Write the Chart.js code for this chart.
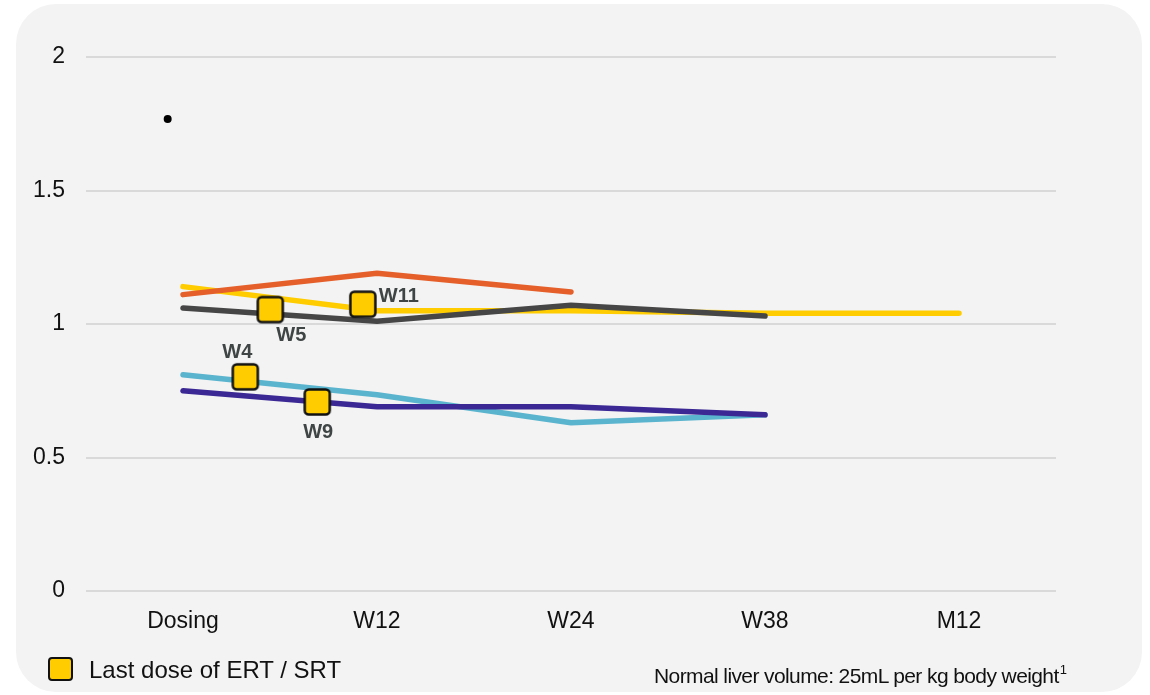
<!DOCTYPE html>
<html>
<head>
<meta charset="utf-8">
<script src="https://cdn.jsdelivr.net/npm/chart.js@4.4.1/dist/chart.umd.min.js"></script>
<style>
  html, body { margin: 0; padding: 0; background: #ffffff; }
  body { width: 1150px; height: 695px; position: relative; overflow: hidden; font-family: "Liberation Sans", Arial, sans-serif; }
  #panel { position: absolute; left: 16px; top: 4px; width: 1126px; height: 688px; background: #f3f3f3; border-radius: 40px; }
  #chart { position: absolute; left: 0; top: 0; }
  #legendBox { position: absolute; left: 48px; top: 657px; width: 21px; height: 20px; background: #FFCC00; border: 2px solid #111; border-radius: 4px; }
  #legendText { position: absolute; left: 89px; top: 658px; font-size: 24px; line-height: 24px; color: #111; white-space: nowrap; }
  #note { position: absolute; left: 654px; top: 665px; font-size: 21px; line-height: 21px; letter-spacing: -0.6px; color: #111; white-space: nowrap; }
  #note sup { font-size: 13px; letter-spacing: 0; vertical-align: 9px; line-height: 0; margin-left: 1px; }
</style>
</head>
<body>
<div id="panel"></div>
<canvas id="chart" width="1150" height="695"></canvas>
<div id="legendBox"></div>
<div id="legendText">Last dose of ERT / SRT</div>
<div id="note">Normal liver volume: 25mL per kg body weight<sup>1</sup></div>
<script>
/* Data */
/////////////////////////////////////////////////////////////////
const categories = ['Dosing', 'W12', 'W24', 'W38', 'M12'];
const yellowVals = [1.14, 1.05, 1.05, 1.04, 1.04];
const orangeVals = [1.11, 1.19, 1.12, null, null];
const greyVals   = [1.06, 1.01, 1.07, 1.03, null];
const blueVals   = [0.81, 0.735, 0.63, 0.66, null];
const purpleVals = [0.75, 0.69, 0.69, 0.66, null];

/* last dose markers, x is a fractional category index */
const markerLabels = ['W5', 'W11', 'W4', 'W9'];
const markerX = [0.45, 0.927, 0.321, 0.692];
const markerY = [1.054, 1.074, 0.802, 0.708];

/* the lone dot near the top */
const dotX = [-0.079];
const dotY = [1.768];

const yTicks = [0, 0.5, 1, 1.5, 2];

/* helpers */
/////////////////////////////////////////////////////////////////
function toPoints(vals) {
    let pts = [];
    for (let i = 0; i < vals.length; i++) {
        if (vals[i] !== null) pts.push({x: i, y: vals[i]});
    }
    return pts;
}
function pairPoints(xs, ys) {
    return xs.map((x, i) => ({x: x, y: ys[i]}));
}
function lineSet(label, vals, color) {
    return {
        label: label,
        data: toPoints(vals),
        borderColor: color,
        backgroundColor: color,
        borderWidth: 5.5,
        borderCapStyle: 'round',
        borderJoinStyle: 'round',
        pointRadius: 0,
        tension: 0
    };
}

/* square marker image */
const box = document.createElement('canvas');
box.width = 30; box.height = 30;
const bctx = box.getContext('2d');
bctx.fillStyle = '#FFCC00';
bctx.strokeStyle = '#111111';
bctx.lineWidth = 2.5;
bctx.beginPath();
bctx.roundRect(2.5, 2.5, 25, 25, 4);
bctx.fill();
bctx.stroke();

/* offsets for the marker labels */
const labelOffsets = [[21, 26], [36, -8], [-8, -24], [1, 31]];

const markerText = {
    id: 'markerText',
    afterDatasetsDraw(chart) {
        const c = chart.ctx;
        const xs = chart.scales.x, ys = chart.scales.y;
        c.save();
        c.font = 'bold 20px "Liberation Sans", Arial, sans-serif';
        c.fillStyle = '#3f4444';
        c.textAlign = 'center';
        c.textBaseline = 'middle';
        for (let i = 0; i < markerLabels.length; i++) {
            const px = xs.getPixelForValue(markerX[i]);
            const py = ys.getPixelForValue(markerY[i]);
            c.fillText(markerLabels[i], px + labelOffsets[i][0], py + labelOffsets[i][1]);
        }
        c.restore();
    }
};

/////////////////////////////////////////////////////////////////
const ctx = document.getElementById('chart');
const chart = new Chart(ctx, {
    type: 'line',
    data: {
        datasets: [
            {
                label: 'Last dose of ERT / SRT',
                data: pairPoints(markerX, markerY),
                showLine: false,
                pointStyle: box,
                pointRadius: 15
            },
            {
                label: 'dot',
                data: pairPoints(dotX, dotY),
                showLine: false,
                pointRadius: 4,
                pointBorderWidth: 0,
                backgroundColor: '#000000',
                borderColor: '#000000'
            },
            lineSet('purple', purpleVals, '#3B2894'),
            lineSet('grey', greyVals, '#464646'),
            lineSet('orange', orangeVals, '#E55F2A'),
            lineSet('blue', blueVals, '#5AB4CE'),
            lineSet('yellow', yellowVals, '#FFCC00')
        ]
    },
    options: {
        responsive: false,
        animation: false,
        devicePixelRatio: 1,
        layout: { padding: { left: 0, top: 57, right: 94, bottom: 60 } },
        plugins: { legend: { display: false }, tooltip: { enabled: false } },
        scales: {
            x: {
                type: 'linear',
                min: -0.5,
                max: 4.5,
                afterBuildTicks: (scale) => { scale.ticks = categories.map((c, i) => ({value: i})); },
                afterFit: (scale) => { scale.height = 44; },
                grid: { display: false, drawTicks: false },
                border: { display: false },
                ticks: {
                    callback: (v) => categories[v],
                    color: '#111',
                    padding: 17,
                    maxRotation: 0,
                    font: { family: '"Liberation Sans", Arial, sans-serif', size: 23 }
                }
            },
            y: {
                min: 0,
                max: 2,
                afterBuildTicks: (scale) => { scale.ticks = yTicks.map(v => ({value: v})); },
                afterFit: (scale) => { scale.width = 86; },
                grid: { color: '#d9d9d9', lineWidth: 2, drawTicks: false },
                border: { display: false },
                ticks: {
                    callback: (v) => String(v),
                    color: '#111',
                    padding: 21,
                    font: { family: '"Liberation Sans", Arial, sans-serif', size: 23 }
                }
            }
        }
    },
    plugins: [markerText]
});
/////////////////////////////////////////////////////////////////
</script>
</body>
</html>
